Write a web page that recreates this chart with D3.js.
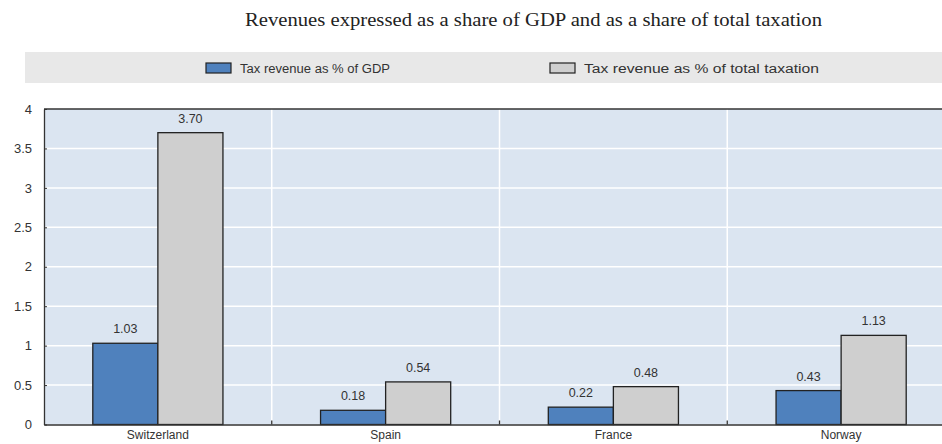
<!DOCTYPE html>
<html>
<head>
<meta charset="utf-8">
<script src="https://cdn.jsdelivr.net/npm/d3@7"></script>
<style>
  body { margin: 0; background: #fff; }
  svg { display: block; }
</style>
</head>
<body>
<div id="chart"></div>
<script>
// data
var countries = ["Switzerland", "Spain", "France", "Norway"];
var seriesNames = ["Tax revenue as % of GDP", "Tax revenue as % of total taxation"];
var shareGDP = [1.03, 0.18, 0.22, 0.43];
var shareTax = [3.70, 0.54, 0.48, 1.13];
var yTicks = [0, 0.5, 1, 1.5, 2, 2.5, 3, 3.5, 4];

var W = 942, H = 444;
var m = {left: 44, right: -13, top: 109, bottom: 19.5};
var colors = ["#4f81bd", "#cfcfcf"];

var svg = d3.select("#chart").append("svg")
    .attr("width", W)
    .attr("height", H);

// title
svg.append("text")
    .attr("x", 245).attr("y", 26)
    .attr("font-family", "Liberation Serif, Times New Roman, serif")
    .attr("font-size", 18)
    .attr("fill", "#222")
    .attr("textLength", 577)
    .attr("lengthAdjust", "spacingAndGlyphs")
    .text("Revenues expressed as a share of GDP and as a share of total taxation");

// legend band
svg.append("rect")
    .attr("x", 25).attr("y", 52)
    .attr("width", W - 25).attr("height", 31)
    .attr("fill", "#e8e8e8");

var legendX = [206, 550];
var legendW = [150, 235];
seriesNames.forEach(function(name, i) {
    svg.append("rect")
        .attr("x", legendX[i]).attr("y", 63)
        .attr("width", 25).attr("height", 10)
        .attr("fill", colors[i])
        .attr("stroke", "#222").attr("stroke-width", 1.2);
    svg.append("text")
        .attr("x", legendX[i] + 34).attr("y", 72.5)
        .attr("font-family", "Liberation Sans, Arial, sans-serif")
        .attr("font-size", 12.5)
        .attr("fill", "#333")
        .attr("textLength", legendW[i])
        .attr("lengthAdjust", "spacingAndGlyphs")
        .text(name);
});

var x0 = d3.scaleBand()
    .domain(countries)
    .range([m.left, W - m.right])
    .padding(0);

var y = d3.scaleLinear()
    .domain([0, 4])
    .range([H - m.bottom, m.top]);

// plot background
svg.append("rect")
    .attr("x", m.left).attr("y", m.top)
    .attr("width", W - m.right - m.left)
    .attr("height", y(0) - m.top)
    .attr("fill", "#dbe5f1");

// horizontal gridlines
svg.append("g")
    .selectAll("line")
    .data(yTicks.slice(1, -1))
    .join("line")
    .attr("x1", m.left).attr("x2", W - m.right)
    .attr("y1", function(d) { return y(d); })
    .attr("y2", function(d) { return y(d); })
    .attr("stroke", "#fff").attr("stroke-width", 1.5);

// vertical separators between countries
svg.append("g")
    .selectAll("line")
    .data(countries.slice(1))
    .join("line")
    .attr("x1", function(d) { return x0(d); })
    .attr("x2", function(d) { return x0(d); })
    .attr("y1", m.top).attr("y2", y(0))
    .attr("stroke", "#fff").attr("stroke-width", 1.5);

var x1 = d3.scaleBand()
    .domain([0, 1])
    .range([0, x0.bandwidth()])
    .paddingOuter(0.75)
    .paddingInner(0);

var rows = countries.map(function(c, i) {
    return {country: c, values: [shareGDP[i], shareTax[i]]};
});

var groups = svg.append("g")
    .selectAll("g")
    .data(rows)
    .join("g")
    .attr("transform", function(d) { return "translate(" + x0(d.country) + ",0)"; });

groups.selectAll("rect")
    .data(function(d) { return d.values; })
    .join("rect")
    .attr("x", function(d, i) { return x1(i); })
    .attr("y", function(d) { return y(d); })
    .attr("width", x1.bandwidth())
    .attr("height", function(d) { return y(0) - y(d); })
    .attr("fill", function(d, i) { return colors[i]; })
    .attr("stroke", "#222").attr("stroke-width", 1.3);

groups.selectAll("text")
    .data(function(d) { return d.values; })
    .join("text")
    .attr("x", function(d, i) { return x1(i) + x1.bandwidth() / 2; })
    .attr("y", function(d) { return y(d) - 10; })
    .attr("text-anchor", "middle")
    .attr("font-family", "Liberation Sans, Arial, sans-serif")
    .attr("font-size", 12.5)
    .attr("fill", "#333")
    .text(function(d) { return d.toFixed(2); });

// y axis
var yAxis = svg.append("g")
    .attr("transform", "translate(" + m.left + ",0)")
    .call(d3.axisLeft(y).tickValues(yTicks).tickSize(4).tickSizeOuter(0)
        .tickFormat(function(d) { return d; }));
yAxis.select(".domain").attr("stroke", "#333").attr("stroke-width", 1.3);
yAxis.selectAll(".tick line").attr("stroke", "#333").attr("x2", 3);
yAxis.selectAll(".tick text")
    .attr("x", -12)
    .attr("font-family", "Liberation Sans, Arial, sans-serif")
    .attr("font-size", 13)
    .attr("fill", "#333");

// top border
svg.append("line")
    .attr("x1", m.left).attr("x2", W)
    .attr("y1", m.top).attr("y2", m.top)
    .attr("stroke", "#333").attr("stroke-width", 1.5);

// x axis
var xAxis = svg.append("g")
    .attr("transform", "translate(0," + y(0) + ")")
    .call(d3.axisBottom(x0).tickSize(0).tickSizeOuter(0));
xAxis.select(".domain").attr("stroke", "#333").attr("stroke-width", 1.3);
xAxis.selectAll(".tick text")
    .attr("y", 14)
    .attr("dy", null)
    .attr("font-family", "Liberation Sans, Arial, sans-serif")
    .attr("font-size", 12)
    .attr("fill", "#333");

// small upward ticks at the separators
svg.append("g")
    .selectAll("line")
    .data(countries.slice(1))
    .join("line")
    .attr("x1", function(d) { return x0(d); })
    .attr("x2", function(d) { return x0(d); })
    .attr("y1", y(0)).attr("y2", y(0) - 4)
    .attr("stroke", "#333").attr("stroke-width", 1.3);
</script>
</body>
</html>
